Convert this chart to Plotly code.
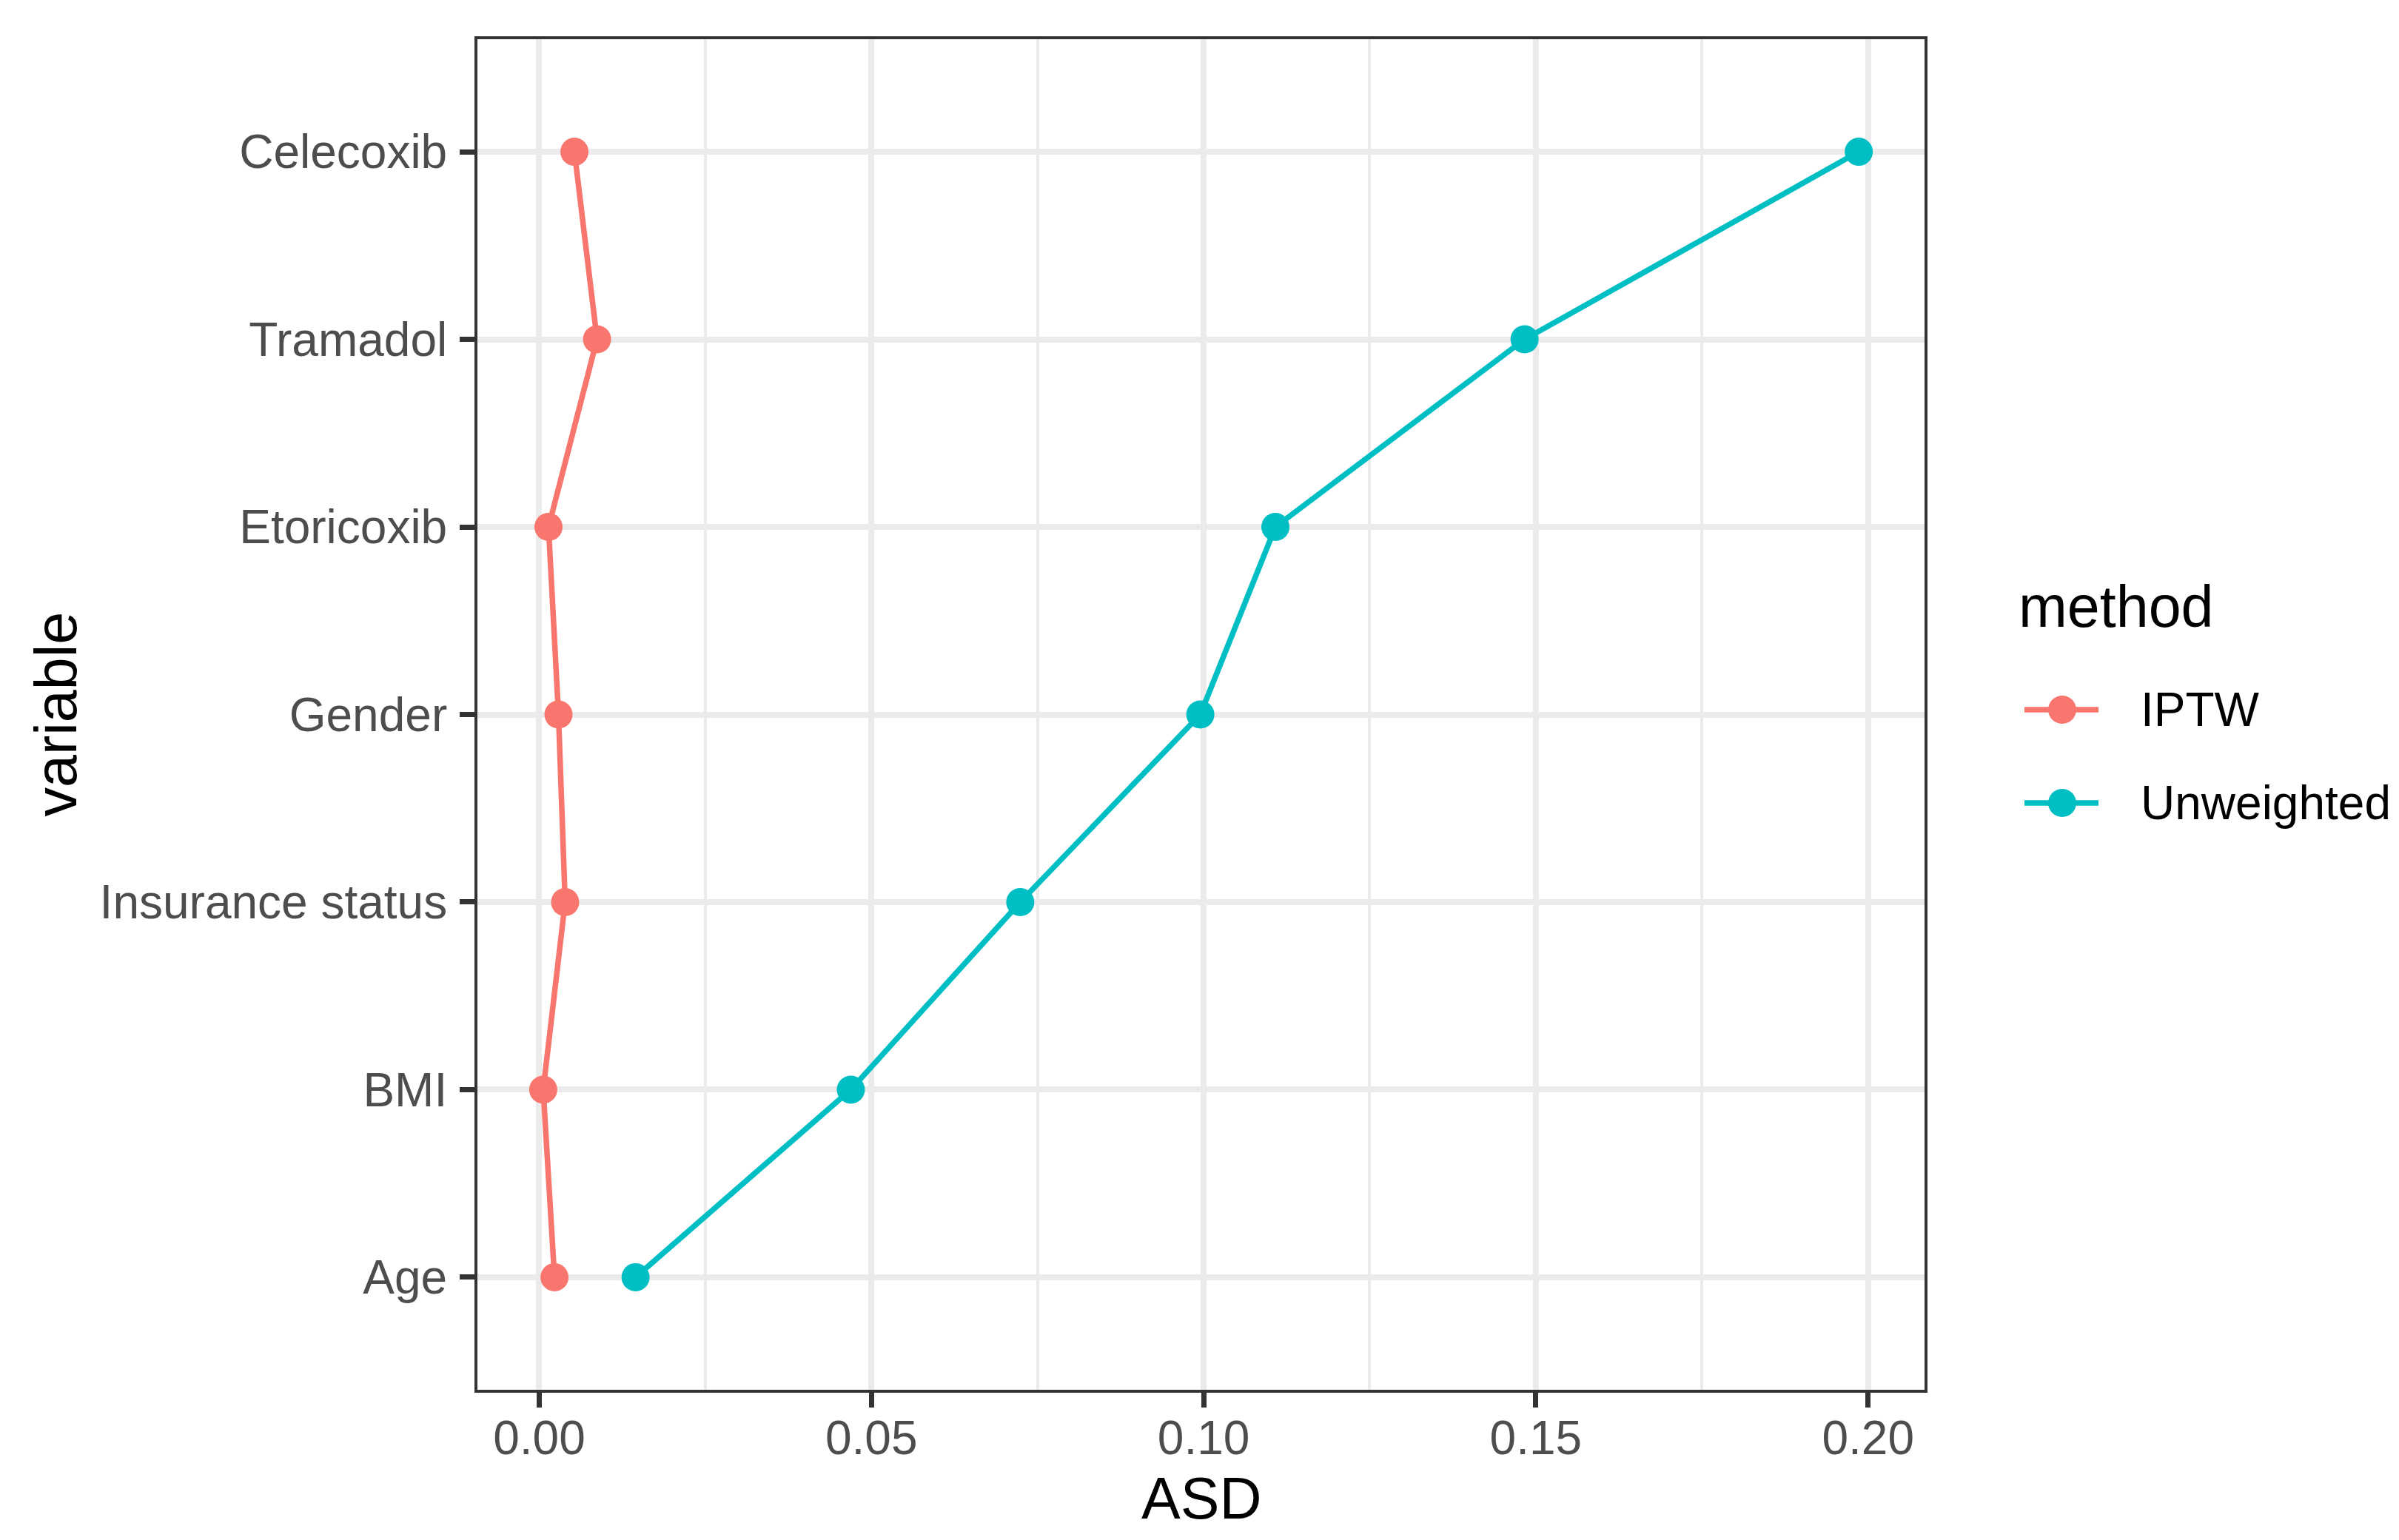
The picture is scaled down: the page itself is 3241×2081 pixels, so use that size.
import plotly.graph_objects as go

variables = ["Age", "BMI", "Insurance status", "Gender", "Etoricoxib", "Tramadol", "Celecoxib"]
iptw = [0.0023, 0.0006, 0.0039, 0.0029, 0.0014, 0.0087, 0.0053]
unweighted = [0.0145, 0.0469, 0.0724, 0.0995, 0.1108, 0.1483, 0.1986]
methods = ["IPTW", "Unweighted"]
colors = ["#F8766D", "#00BFC4"]
x_ticks = [0.00, 0.05, 0.10, 0.15, 0.20]
x_ticklabels = ["0.00", "0.05", "0.10", "0.15", "0.20"]

FONT = "Liberation Sans, Arial, sans-serif"
W, H = 3241, 2081
L, R, T, B = 637, 2592, 45, 1870

fig = go.Figure()
for name, vals, col in zip(methods, [iptw, unweighted], colors):
    fig.add_trace(go.Scatter(
        x=vals, y=variables, mode="lines+markers", name=name,
        line=dict(color=col, width=7.5),
        marker=dict(color=col, size=38),
        showlegend=False,
    ))

allv = iptw + unweighted
lo, hi = min(allv), max(allv)
pad = 0.05 * (hi - lo)

fig.update_xaxes(
    range=[lo - pad, hi + pad],
    tickvals=x_ticks, ticktext=x_ticklabels,
    showgrid=True, gridcolor="#EBEBEB", gridwidth=7.6,
    minor=dict(dtick=0.025, tick0=0.025, showgrid=True, gridcolor="#EBEBEB", gridwidth=3.8),
    zeroline=False,
    ticks="outside", ticklen=20, tickwidth=7, tickcolor="#333333",
    tickfont=dict(family=FONT, size=64, color="#4D4D4D"),
    ticklabelstandoff=-14,
    showline=True, mirror=True, linecolor="#333333", linewidth=4,
)
fig.update_yaxes(
    type="category", categoryorder="array", categoryarray=variables,
    range=[-0.6, len(variables) - 0.4],
    showgrid=True, gridcolor="#EBEBEB", gridwidth=7.6,
    zeroline=False,
    ticks="outside", ticklen=20, tickwidth=7, tickcolor="#333333",
    tickfont=dict(family=FONT, size=64, color="#4D4D4D"),
    ticklabelstandoff=4,
    showline=True, mirror=True, linecolor="#333333", linewidth=4,
)

pw, ph = R - L, B - T
def px(xp):
    return (xp - L) / pw
def py(yp):
    return (B - yp) / ph

annotations = [
    dict(text="ASD", x=0.5, y=py(2017), xref="paper", yref="paper",
         xanchor="center", yanchor="middle", showarrow=False,
         font=dict(family=FONT, size=79, color="black")),
    dict(text="variable", x=px(67), y=0.5, xref="paper", yref="paper",
         xanchor="center", yanchor="middle", showarrow=False, textangle=-90,
         font=dict(family=FONT, size=79, color="black")),
    dict(text="method", x=px(2717), y=py(811), xref="paper", yref="paper",
         xanchor="left", yanchor="middle", showarrow=False,
         font=dict(family=FONT, size=79, color="black")),
]
shapes = []
leg_y = [951, 1077]
for name, col, yy in zip(methods, colors, leg_y):
    shapes.append(dict(type="line", xref="paper", yref="paper",
                       x0=px(2727), x1=px(2827), y0=py(yy), y1=py(yy),
                       line=dict(color=col, width=7.5)))
    shapes.append(dict(type="circle", xref="paper", yref="paper",
                       xsizemode="pixel", ysizemode="pixel",
                       xanchor=px(2778), yanchor=py(yy),
                       x0=-19, x1=19, y0=-19, y1=19,
                       fillcolor=col, line=dict(width=0)))
    annotations.append(dict(text=name, x=px(2882), y=py(yy), xref="paper", yref="paper",
                            xanchor="left", yanchor="middle", showarrow=False,
                            font=dict(family=FONT, size=64, color="black")))

fig.update_layout(
    width=W, height=H,
    margin=dict(l=L, r=W - R, t=T, b=H - B),
    paper_bgcolor="white", plot_bgcolor="white",
    showlegend=False,
    annotations=annotations, shapes=shapes,
)

fig.write_html("out.html")
